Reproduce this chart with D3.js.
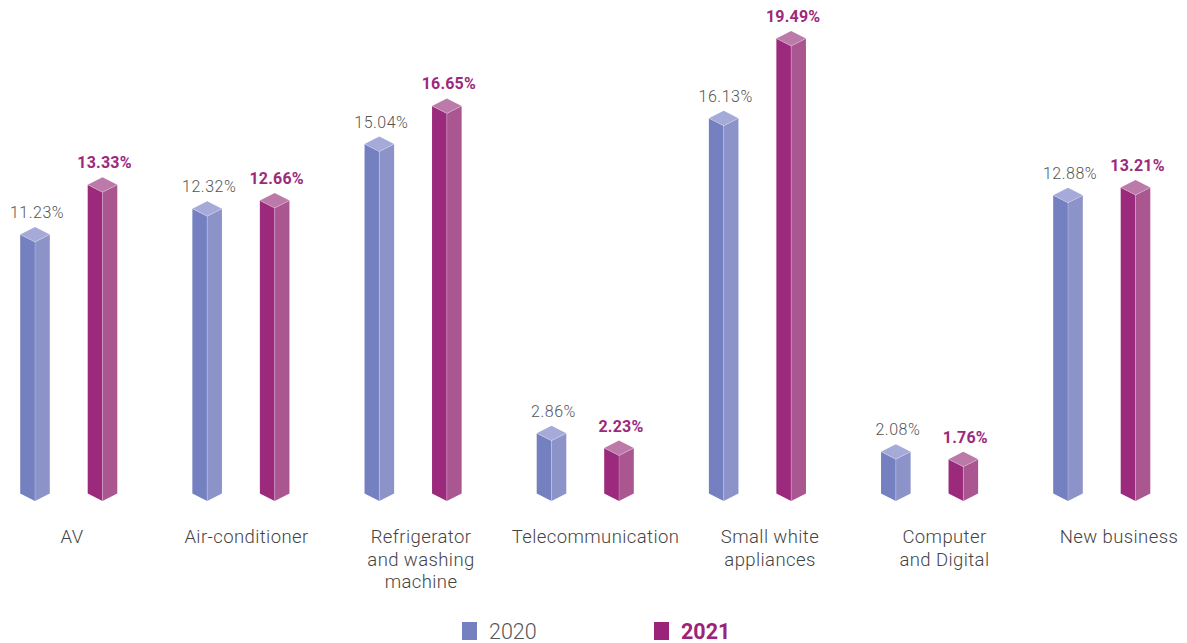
<!DOCTYPE html>
<html>
<head>
<meta charset="utf-8">
<script src="https://cdn.jsdelivr.net/npm/d3@7"></script>
<style>
  html, body { margin: 0; padding: 0; background: #ffffff; }
  svg { display: block; font-family: Roboto, "Noto Sans", sans-serif; }
</style>
</head>
<body>
<svg id="chart" width="1187" height="643"></svg>
<script>
// Sales share by product line, 2020 vs 2021 (%)
const categories = [
  ["AV"],
  ["Air-conditioner"],
  ["Refrigerator", "and washing", "machine"],
  ["Telecommunication"],
  ["Small white", "appliances"],
  ["Computer", "and Digital"],
  ["New business"]
];
const values2020 = [11.23, 12.32, 15.04, 2.86, 16.13, 2.08, 12.88];
const values2021 = [13.33, 12.66, 16.65, 2.23, 19.49, 1.76, 13.21];
const seriesNames = ["2020", "2021"];

const series = [
  { name: seriesNames[0], values: values2020, left: "#7480c0", right: "#8c93c9", top: "#a5aad8",
    labelColor: "#555555", labelWeight: 300 },
  { name: seriesNames[1], values: values2021, left: "#9c2a7c", right: "#aa5690", top: "#bb7aa9",
    labelColor: "#9c2a7c", labelWeight: 700 }
];

const svg = d3.select("#chart");
const keys = categories.map(c => c.join(" "));

// Group positions for bars, and a slightly wider spread for the axis labels
const xGroup = d3.scalePoint().domain(keys).range([35, 1068]);
const xLabel = d3.scalePoint().domain(keys).range([72, 1119]);
const xSeries = d3.scalePoint().domain(seriesNames).range([0, 67.5]);
// y of the front top corner of each prism
const y = d3.scaleLinear().domain([0, 20]).range([508.5, 33.9]);

const baseY = 501;   // bottom front corner
const hw = 14.8;     // half width of prism
const dy = 7.5;      // isometric drop from top vertex to side corners

const g = svg.append("g");

series.forEach(s => {
  keys.forEach((k, i) => {
    const v = s.values[i];
    const cx = xGroup(k) + xSeries(s.name);
    const ft = y(v);          // front top vertex
    const tv = ft - 2 * dy;   // back top vertex
    const bar = g.append("g");
    // left face
    bar.append("path")
      .attr("d", `M${cx},${ft} L${cx - hw},${ft - dy} L${cx - hw},${baseY - dy} L${cx},${baseY} Z`)
      .attr("fill", s.left);
    // right face
    bar.append("path")
      .attr("d", `M${cx},${ft} L${cx + hw},${ft - dy} L${cx + hw},${baseY - dy} L${cx},${baseY} Z`)
      .attr("fill", s.right);
    // top face
    bar.append("path")
      .attr("d", `M${cx},${ft} L${cx - hw},${ft - dy} L${cx},${tv} L${cx + hw},${ft - dy} Z`)
      .attr("fill", s.top);
    // light edge highlights
    bar.append("path")
      .attr("d", `M${cx},${ft} L${cx},${baseY} M${cx - hw},${ft - dy} L${cx},${ft} L${cx + hw},${ft - dy}`)
      .attr("fill", "none")
      .attr("stroke", "#ffffff")
      .attr("stroke-opacity", 0.3)
      .attr("stroke-width", 0.8);
    // value label
    g.append("text")
      .attr("x", cx + 2)
      .attr("y", tv - 9)
      .attr("text-anchor", "middle")
      .attr("font-size", 16)
      .attr("letter-spacing", s.labelWeight === 700 ? 0.2 : 0.5)
      .attr("font-weight", s.labelWeight)
      .attr("fill", s.labelColor)
      .text(v.toFixed(2) + "%");
  });
});

// category labels
categories.forEach((lines, i) => {
  const t = svg.append("text")
    .attr("x", xLabel(keys[i]))
    .attr("y", 543)
    .attr("text-anchor", "middle")
    .attr("font-size", 18.5)
    .attr("letter-spacing", 0.4)
    .attr("font-weight", 300)
    .attr("fill", "#444444");
  lines.forEach((ln, j) => {
    t.append("tspan")
      .attr("x", xLabel(keys[i]))
      .attr("dy", j === 0 ? 0 : 22.5)
      .text(ln);
  });
});

// legend
const legend = [
  { name: seriesNames[0], color: "#7480c0", textColor: "#555555", weight: 300, x: 462 },
  { name: seriesNames[1], color: "#9c237a", textColor: "#9c237a", weight: 700, x: 654 }
];
legend.forEach(l => {
  svg.append("rect")
    .attr("x", l.x).attr("y", 622).attr("width", 15).attr("height", 18)
    .attr("fill", l.color);
  svg.append("text")
    .attr("x", l.x + 27).attr("y", 639)
    .attr("font-size", 21.5)
    .attr("font-weight", l.weight)
    .attr("fill", l.textColor)
    .text(l.name);
});
</script>
</body>
</html>
